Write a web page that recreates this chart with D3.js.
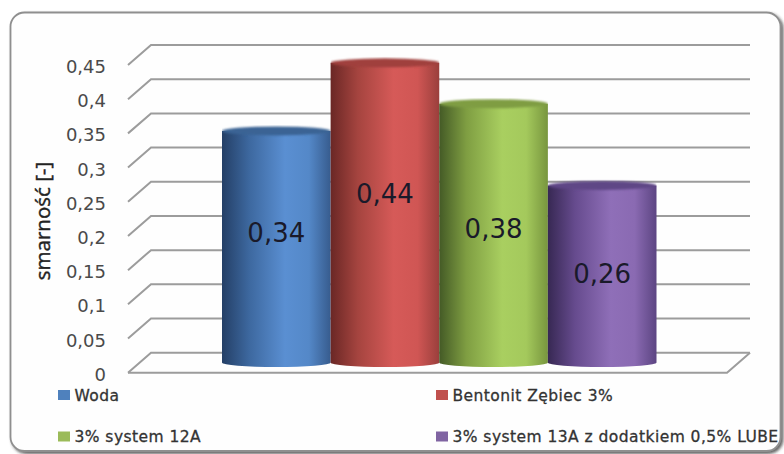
<!DOCTYPE html>
<html>
<head>
<meta charset="utf-8">
<style>
html,body{margin:0;padding:0;background:#fff;}
svg{display:block;}
text{font-family:"DejaVu Sans",sans-serif;}
</style>
<script src="https://cdn.jsdelivr.net/npm/d3@7/dist/d3.min.js"></script>
</head>
<body>
<svg id="chart" width="784" height="454"></svg>
<script>
const categories = ["Woda", "Bentonit Zębiec 3%", "3% system 12A", "3% system 13A z dodatkiem 0,5% LUBE"];
const values = [0.34, 0.44, 0.38, 0.26];
const valueLabels = ["0,34", "0,44", "0,38", "0,26"];
const tickValues = [0, 0.05, 0.1, 0.15, 0.2, 0.25, 0.3, 0.35, 0.4, 0.45];
const tickLabels = ["0", "0,05", "0,1", "0,15", "0,2", "0,25", "0,3", "0,35", "0,4", "0,45"];
const axisTitle = "smarność [-]";
const swatchColors = ["#4f81bd", "#c0504d", "#9bbb59", "#8064a2"];
const cylinderStops = [
  ["#243f66", "#3d689f", "#5a8fd2", "#5488c8", "#375c8e"],
  ["#6a2725", "#a5443f", "#d65a58", "#d05654", "#9a3f3c"],
  ["#445a26", "#7f9e42", "#a9cf60", "#a4c95c", "#78963e"],
  ["#372853", "#664b8e", "#8f6fb8", "#8a6ab2", "#5c4582"]
];
const capColors = ["#3a6394", "#a03f3d", "#7f9d43", "#5f4686"];
// Label lift above the middle of each cylinder
const labelLift = [14, 19, 4.5, 0];

const svg = d3.select("#chart");
const defs = svg.append("defs");

// Plot geometry: the floor is a parallelogram leaning back to the right.
const backLeft = 151, backRight = 750, depthX = 23, depthY = 20;
const yBack = d3.scaleLinear().domain([0, 0.45]).range([352.7, 45]);
const yBar = d3.scaleLinear().domain([0, 0.45]).range([362.5, 56]);
const x = d3.scaleBand().domain(categories).range([222, 656.5]).padding(0);

// Chart frame with its soft lower-right shadow
defs.append("filter").attr("id", "frameShadow").attr("x", "-5%").attr("y", "-5%").attr("width", "110%").attr("height", "110%")
  .append("feDropShadow").attr("dx", 2).attr("dy", 2).attr("stdDeviation", 1.6).attr("flood-color", "#333").attr("flood-opacity", 0.75);
svg.append("rect")
  .attr("x", 10.5).attr("y", 12.5).attr("width", 770).attr("height", 438.5).attr("rx", 14)
  .attr("fill", "#fefefe").attr("stroke", "#8f8f8f").attr("stroke-width", 1.8)
  .attr("filter", "url(#frameShadow)");

// Back wall gridlines and the diagonal side wall ticks
const grid = svg.append("g").attr("fill", "none").attr("stroke", "#9c9c9c").attr("stroke-width", 2);
grid.selectAll("path").data(tickValues).join("path")
  .attr("d", d => {
    const yb = yBack(d);
    return `M${backLeft - depthX},${yb + depthY}L${backLeft},${yb}L${backRight},${yb}`;
  });
// Front edge of the floor
grid.append("path")
  .attr("d", `M${backLeft - depthX},${yBack(0) + depthY}L${backRight - depthX},${yBack(0) + depthY}L${backRight},${yBack(0)}`);

// Value axis labels
svg.append("g").selectAll("text").data(tickValues).join("text")
  .attr("x", 106).attr("y", d => yBack(d) + depthY + 8)
  .attr("text-anchor", "end").attr("font-size", 18).attr("fill", "#4a4a4a")
  .text((d, i) => tickLabels[i]);

svg.append("text")
  .attr("transform", "translate(49.5,221) rotate(-90)")
  .attr("text-anchor", "middle").attr("font-size", 20.5)
  .style("font-family", "'Open Sans',sans-serif").attr("fill", "#222").attr("stroke", "#222").attr("stroke-width", 0.4)
  .text(axisTitle);

// Cylinders
categories.forEach((c, i) => {
  const g = defs.append("linearGradient").attr("id", "cyl" + i);
  cylinderStops[i].forEach((col, k) => {
    g.append("stop").attr("offset", [0, 0.25, 0.58, 0.8, 1][k]).attr("stop-color", col);
  });
});
defs.append("filter").attr("id", "capSoft").attr("x", "-5%").attr("y", "-30%").attr("width", "110%").attr("height", "160%")
  .append("feGaussianBlur").attr("stdDeviation", 0.9);
const barClip = defs.selectAll("clipPath").data(categories).join("clipPath").attr("id", (d, i) => "capClip" + i);
barClip.append("rect")
  .attr("x", d => x(d)).attr("width", x.bandwidth())
  .attr("y", (d, i) => yBar(values[i]) - 6).attr("height", 16);

const ry = 4.5;
const bars = svg.append("g").selectAll("g").data(categories).join("g");
const barOutline = (d, i) => {
  const x0 = x(d), w = x.bandwidth(), rx = w / 2;
  return `M${x0},${yBar(values[i])}L${x0},${yBar(0)}A${rx},${ry} 0 0 0 ${x0 + w},${yBar(0)}L${x0 + w},${yBar(values[i])}Z`;
};
bars.append("path").attr("fill", (d, i) => `url(#cyl${i})`).attr("d", barOutline);
// The cap's lower rim fades softly into the side of the cylinder
bars.append("g").attr("clip-path", (d, i) => `url(#capClip${i})`)
  .append("ellipse")
  .attr("cx", d => x(d) + x.bandwidth() / 2)
  .attr("cy", (d, i) => yBar(values[i]))
  .attr("rx", x.bandwidth() / 2).attr("ry", ry)
  .attr("fill", (d, i) => capColors[i])
  .attr("filter", "url(#capSoft)");

// Value labels near the middle of each cylinder
bars.append("text")
  .attr("x", d => x(d) + x.bandwidth() / 2)
  .attr("y", (d, i) => (yBar(values[i]) + yBar(0)) / 2 + 9.5 - labelLift[i])
  .attr("text-anchor", "middle").attr("font-size", 26).attr("fill", "#1a1a2a")
  .text((d, i) => valueLabels[i]);

// Legend in two rows and two columns
const legendX = [58, 436], legendY = [395, 436.5];
const legend = svg.append("g").selectAll("g").data(categories).join("g")
  .attr("transform", (d, i) => `translate(${legendX[i % 2]},${legendY[Math.floor(i / 2)]})`);
legend.append("rect").attr("x", 0).attr("y", -5).attr("width", 12).attr("height", 10)
  .attr("fill", (d, i) => swatchColors[i]);
legend.append("text").attr("x", 16.5).attr("y", 5.5)
  .attr("font-size", 15.5).attr("letter-spacing", 0.45).attr("fill", "#333").attr("stroke", "#333").attr("stroke-width", 0.3)
  .text(d => d);
</script>
</body>
</html>
